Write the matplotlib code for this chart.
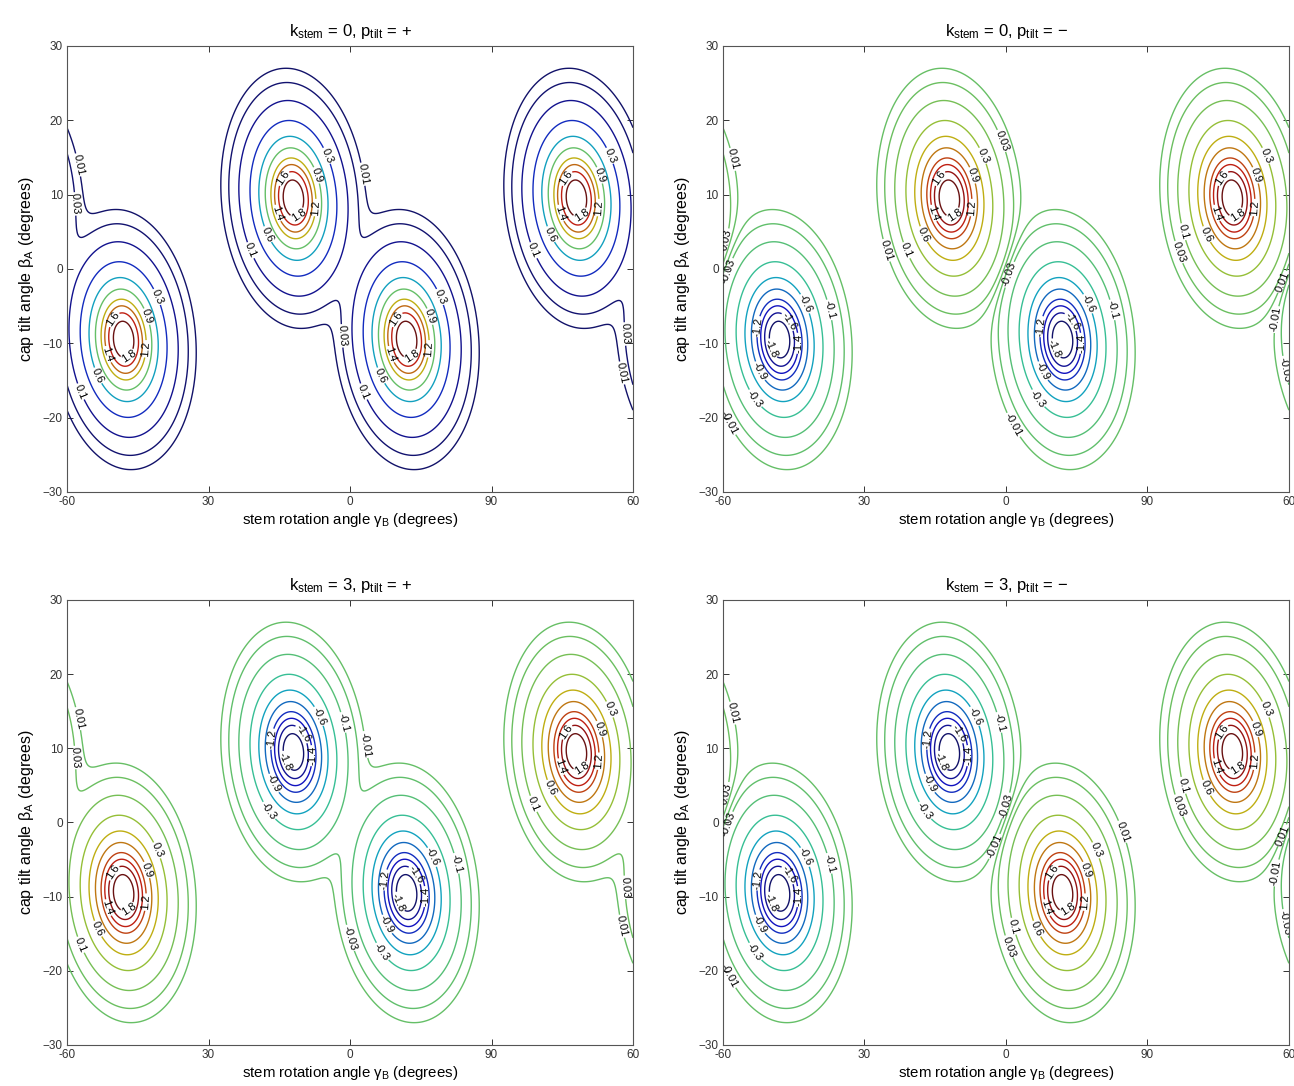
import numpy as np
import matplotlib
matplotlib.use('Agg')
import matplotlib.pyplot as plt
from matplotlib.colors import ListedColormap

plt.rcParams['font.family'] = ['Liberation Sans', 'DejaVu Sans']
plt.rcParams['mathtext.fontset'] = 'custom'
plt.rcParams['mathtext.rm'] = 'Liberation Sans'
plt.rcParams['mathtext.it'] = 'Liberation Sans:italic'

# peak centres (stem angle, cap tilt) -- repeats every 60 deg in stem angle
peak_x = [-72, -48, -12, 12, 48, 72]
peak_y = [9.5, -9.5, 9.5, -9.5, 9.5, -9.5]
peak_height = 2.0
width_x = 6.65
width_y = 7.6
lean = 0.09

# sign of each peak in the four panels
signs_k0_plus = [1, 1, 1, 1, 1, 1]
signs_k0_minus = [1, -1, 1, -1, 1, -1]
signs_k3_plus = [1, 1, -1, -1, 1, 1]
signs_k3_minus = [1, -1, -1, 1, 1, -1]

levels_pos = [0.01, 0.03, 0.1, 0.3, 0.6, 0.9, 1.2, 1.4, 1.6, 1.8]
levels_sym = [-v for v in levels_pos[::-1]] + levels_pos

titles = [r'k$_{\rm stem}$ = 0, p$_{\rm tilt}$ = +',
          r'k$_{\rm stem}$ = 0, p$_{\rm tilt}$ = $-$',
          r'k$_{\rm stem}$ = 3, p$_{\rm tilt}$ = +',
          r'k$_{\rm stem}$ = 3, p$_{\rm tilt}$ = $-$']
panel_signs = [signs_k0_plus, signs_k0_minus, signs_k3_plus, signs_k3_minus]
panel_levels = [levels_pos, levels_sym, levels_sym, levels_sym]

x_ticks = [-60, -30, 0, 30, 60]
x_ticklabels = ['-60', '30', '0', '90', '60']
y_ticks = [-30, -20, -10, 0, 10, 20, 30]
y_ticklabels = ['\u221230', '\u221220', '\u221210', '0', '10', '20', '30']

gx = np.linspace(-60, 60, 481)
gy = np.linspace(-30, 30, 241)
X, Y = np.meshgrid(gx, gy)


def field(signs):
    Z = np.zeros_like(X)
    for cx, cy, s in zip(peak_x, peak_y, signs):
        dx = (X - cx) + lean * (Y - cy)
        dy = Y - cy
        Z += s * peak_height * np.exp(-(dx / width_x) ** 2 - (dy / width_y) ** 2)
    return Z


# jet, a bit duller like the printed figure
jet = plt.get_cmap('jet')(np.linspace(0, 1, 256))
jet[:, :3] = jet[:, :3] * 0.68 + 0.07
dull_jet = ListedColormap(jet)

fig = plt.figure(figsize=(12.94, 10.86), dpi=100)
positions = [[0.0518, 0.547, 0.4374, 0.4107],
             [0.5587, 0.547, 0.4374, 0.4107],
             [0.0518, 0.0378, 0.4374, 0.4098],
             [0.5587, 0.0378, 0.4374, 0.4098]]

for pos, title, signs, lev in zip(positions, titles, panel_signs, panel_levels):
    ax = fig.add_axes(pos)
    Z = field(signs)
    cs = ax.contour(X, Y, Z, levels=lev, cmap=dull_jet, vmin=min(lev), vmax=max(lev),
                    linewidths=1.0)
    ax.clabel(cs, fmt=lambda v: '%g' % v, fontsize=8, colors='k',
              inline=True, inline_spacing=1)
    ax.set_xlim(-60, 60)
    ax.set_ylim(-30, 30)
    ax.set_xticks(x_ticks)
    ax.set_xticklabels(x_ticklabels)
    ax.set_yticks(y_ticks)
    ax.set_yticklabels(y_ticklabels)
    ax.tick_params(direction='in', top=True, right=True, length=4, width=0.7,
                   labelsize=8.5, pad=3, colors='#333333')
    for sp in ax.spines.values():
        sp.set_color('#555555')
        sp.set_linewidth(0.8)
    ax.set_title(title, fontsize=12, pad=7)
    ax.set_xlabel('stem rotation angle \u03b3$_{\\rm B}$ (degrees)', fontsize=10.8, labelpad=2)
    ax.set_ylabel('cap tilt angle \u03b2$_{\\rm A}$ (degrees)', fontsize=11.5, labelpad=5)

fig.savefig('out.png', dpi=100)
